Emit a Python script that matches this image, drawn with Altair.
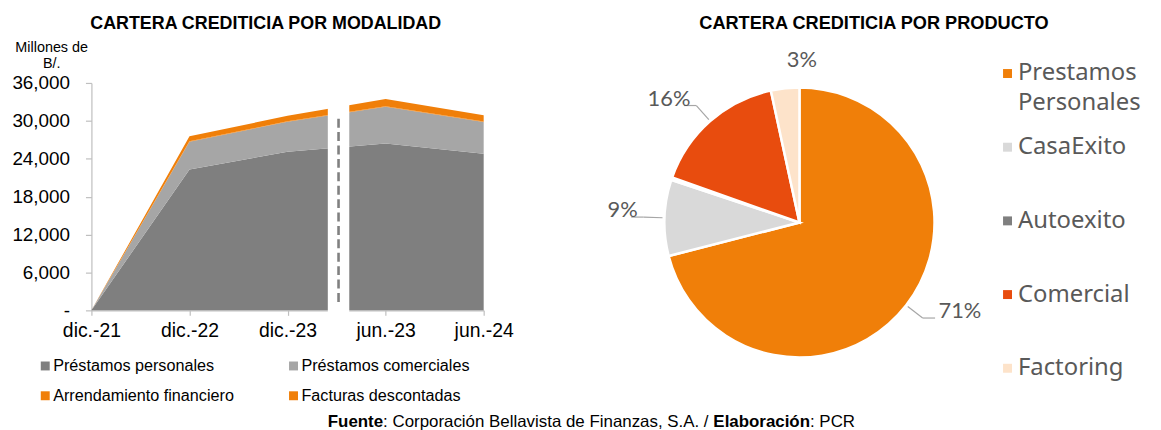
import json
import altair as alt
import pandas as pd

# ---------------- data ----------------
fechas = ["dic.-21", "dic.-22", "dic.-23", "jun.-23", "jun.-24"]
prestamos_personales = [0, 22300, 25100, 26400, 24800]
prestamos_comerciales = [0, 4400, 4750, 5850, 5000]
arrendamiento_financiero = [0, 60, 70, 80, 80]
facturas_descontadas = [0, 790, 880, 1120, 1020]
series = ["Préstamos personales", "Préstamos comerciales",
          "Arrendamiento financiero", "Facturas descontadas"]
ticks_y = [0, 6000, 12000, 18000, 24000, 30000, 36000]

productos = ["Prestamos Personales", "CasaExito", "Autoexito", "Comercial", "Factoring"]
participacion = [71.0, 9.1, 0.3, 16.2, 3.4]

titulo_izq = "CARTERA CREDITICIA POR MODALIDAD"
titulo_der = "CARTERA CREDITICIA POR PRODUCTO"
unidad = "Millones de\nB/."
fuente = [("Fuente", True), (": Corporación Bellavista de Finanzas, S.A. / ", False),
          ("Elaboración", True), (": PCR", False)]

# ---------------- styles ----------------
series_colors = ["#7f7f7f", "#a6a6a6", "#f07f09", "#f07f09"]
pie_colors = ["#f07f09", "#d9d9d9", "#7f7f7f", "#e84c0e", "#fde3ca"]
SANS = "Liberation Sans"
PIEFONT = "Lato"
LEGFONT = "Noto Sans"
GREY_TXT = "#595959"

W, H = 395, 229          # plot area of the left chart
PAD = {"left": 84, "top": 74, "right": 674, "bottom": 119}
CX, CY, R = 713, 140.5, 136   # pie centre, relative to plot origin
CORTE = 2.52                  # axis break between dic.-23 and jun.-23

# ---------------- tables ----------------
vals = [prestamos_personales, prestamos_comerciales, arrendamiento_financiero, facturas_descontadas]
rows = []
for i, f in enumerate(fechas):
    for k, s in enumerate(series):
        rows.append({"pos": i, "fecha": f, "serie": s, "orden": k, "valor": vals[k][i]})
df_area = pd.DataFrame(rows)
df_series = pd.DataFrame({"serie": series, "orden": list(range(len(series)))})
df_pie = pd.DataFrame({"producto": productos, "valor": participacion,
                       "orden": list(range(len(productos)))})
leg_rows = []
for i, p in enumerate(productos):
    lines = p.split(" ") if len(p) > 12 else [p]
    for j, t in enumerate(lines):
        leg_rows.append({"producto": p, "orden": i, "linea": j, "texto": t})
df_pleg = pd.DataFrame(leg_rows)
one = pd.DataFrame({"k": [0]})

NBSP = "\u00a0"
x_axis = alt.Axis(values=list(range(len(fechas))), labelExpr=f"{json.dumps(fechas)}[datum.value]",
                  title=None, grid=False, tickSize=5, labelPadding=6, labelFlush=False,
                  labelOverlap=False)
x_enc = alt.X("pos:Q", scale=alt.Scale(domain=[0, len(fechas) - 1], nice=False, zero=False), axis=x_axis)

area = alt.Chart(df_area).mark_area(interpolate="linear").encode(
    x=x_enc,
    y=alt.Y("valor:Q", stack="zero", scale=alt.Scale(domain=[ticks_y[0], ticks_y[-1]], nice=False),
            axis=alt.Axis(values=ticks_y, title=None, grid=False, tickSize=6, labelPadding=16,
                          labelFontSize=19,
                          labelExpr=f"datum.value == 0 ? '-{NBSP}{NBSP}' : format(datum.value, ',')")),
    color=alt.Color("serie:N", scale=alt.Scale(domain=series, range=series_colors), legend=None),
    order=alt.Order("orden:Q", sort="ascending"),
)

df_corte = pd.DataFrame({"pos": [CORTE]})
gap = alt.Chart(df_corte).mark_rule(color="white", strokeWidth=21.6, strokeCap="butt").encode(
    x=x_enc, y=alt.value(-6), y2=alt.value(234))
dash = alt.Chart(df_corte).mark_rule(color="#808080", strokeWidth=2.6, strokeDash=[9, 4.5],
                                     strokeCap="butt").encode(
    x=x_enc, y=alt.value(36), y2=alt.value(224))

# --- left legend ---
leg_l = alt.Chart(df_series).transform_calculate(
    col="datum.orden % 2", row="floor(datum.orden / 2)",
    lx="-46.5 + datum.col * 250", ly="285 + datum.row * 30", tx="datum.lx + 8")
leg_l_sq = leg_l.mark_square(size=81, opacity=1).encode(
    x=alt.X("lx:Q", scale=None, axis=None), y=alt.Y("ly:Q", scale=None, axis=None),
    color=alt.Color("serie:N", scale=alt.Scale(domain=series, range=series_colors), legend=None))
leg_l_tx = leg_l.mark_text(align="left", baseline="middle", font=SANS, fontSize=16.3, color="black").encode(
    x=alt.X("tx:Q", scale=None, axis=None), y=alt.Y("ly:Q", scale=None, axis=None), text="serie:N")

# --- pie ---
arc = alt.Chart(df_pie).mark_arc(outerRadius=R, stroke="white", strokeWidth=2.5).encode(
    theta=alt.Theta("valor:Q", stack=True),
    order=alt.Order("orden:Q", sort="ascending"),
    color=alt.Color("producto:N", scale=alt.Scale(domain=productos, range=pie_colors), legend=None),
    x=alt.value(CX), y=alt.value(CY))

lab = alt.Chart(df_pie).transform_window(
    cum="sum(valor)", sort=[alt.SortField("orden")], frame=[None, 0]
).transform_joinaggregate(total="sum(valor)").transform_calculate(
    frac="datum.valor / datum.total",
    mid="2 * PI * (datum.cum - datum.valor / 2) / datum.total",
    s="sin(datum.mid)", c="cos(datum.mid)",
    side="datum.s >= 0 ? 1 : -1",
    x0=f"{CX} + 138 * datum.s", y0=f"{CY} - 138 * datum.c",
    xb=f"{CX} + 157 * datum.s", yb=f"{CY} - 157 * datum.c",
    xh="datum.xb + datum.side * 12.5",
    tx="datum.xb + (datum.side > 0 ? 16 : -6)", ty="datum.yb - 7",
    nx=f"{CX} + 165 * datum.s + 20", ny=f"{CY} - 165 * datum.c",
    etiqueta="format(datum.frac, '.0%')")

lead = lab.transform_filter("datum.frac >= 0.05")
lead1 = lead.mark_rule(color="#a6a6a6", strokeWidth=1.2).encode(
    x=alt.X("x0:Q", scale=None, axis=None), y=alt.Y("y0:Q", scale=None, axis=None),
    x2="xb:Q", y2="yb:Q")
lead2 = lead.mark_rule(color="#a6a6a6", strokeWidth=1.2).encode(
    x=alt.X("xb:Q", scale=None, axis=None), y=alt.Y("yb:Q", scale=None, axis=None),
    x2="xh:Q", y2="yb:Q")
txt_r = lead.transform_filter("datum.side > 0").mark_text(
    align="left", baseline="middle", font=PIEFONT, fontSize=22, color=GREY_TXT).encode(
    x=alt.X("tx:Q", scale=None, axis=None), y=alt.Y("ty:Q", scale=None, axis=None), text="etiqueta:N")
txt_l = lead.transform_filter("datum.side < 0").mark_text(
    align="right", baseline="middle", font=PIEFONT, fontSize=22, color=GREY_TXT).encode(
    x=alt.X("tx:Q", scale=None, axis=None), y=alt.Y("ty:Q", scale=None, axis=None), text="etiqueta:N")
txt_n = lab.transform_filter("datum.frac >= 0.01 && datum.frac < 0.05").mark_text(
    align="center", baseline="middle", font=PIEFONT, fontSize=22, color=GREY_TXT).encode(
    x=alt.X("nx:Q", scale=None, axis=None), y=alt.Y("ny:Q", scale=None, axis=None), text="etiqueta:N")

# --- pie legend ---
leg_r_sq = alt.Chart(df_pie).transform_calculate(
    lx="922.5", ly="-9.5 + datum.orden * 74.2").mark_square(size=81, opacity=1).encode(
    x=alt.X("lx:Q", scale=None, axis=None), y=alt.Y("ly:Q", scale=None, axis=None),
    color=alt.Color("producto:N", scale=alt.Scale(domain=productos, range=pie_colors), legend=None))
leg_r_tx = alt.Chart(df_pleg).transform_calculate(
    lx="933", ly="-9.5 + datum.orden * 74.2 + datum.linea * 30").mark_text(
    align="left", baseline="middle", font=LEGFONT, fontSize=24, color=GREY_TXT).encode(
    x=alt.X("lx:Q", scale=None, axis=None), y=alt.Y("ly:Q", scale=None, axis=None), text="texto:N")

# --- titles and notes ---
def label(text, x, y, size, bold=False, align="center", font=SANS, color="black", **kw):
    return alt.Chart(one).mark_text(text=text, align=align, baseline="alphabetic", font=font,
                                    fontSize=size, fontWeight="bold" if bold else "normal",
                                    color=color, **kw).encode(x=alt.value(x), y=alt.value(y))

t_izq = label(titulo_izq, 175.5, -54, 18, bold=True)
t_der = label(titulo_der, 788, -54, 18.3, bold=True)
t_uni = label(unidad, -40, -31.5, 14.5, lineBreak="\n", lineHeight=16)
foot_x = [238, 293.7, 626.3, 723.6]
foot = [label(t, fx, 346, 17, bold=b, align="left") for (t, b), fx in zip(fuente, foot_x)]

chart = alt.layer(
    area, gap, dash, leg_l_sq, leg_l_tx,
    arc, lead1, lead2, txt_r, txt_l, txt_n, leg_r_sq, leg_r_tx,
    t_izq, t_der, t_uni, *foot,
).resolve_scale(color="independent").properties(
    width=W, height=H,
    autosize=alt.AutoSizeParams(type="none"),
    padding=PAD,
).configure_view(stroke=None).configure_axis(
    domainColor="#bfbfbf", tickColor="#bfbfbf", labelFont=SANS, labelFontSize=19.5,
    labelColor="black", domainWidth=1.2, tickWidth=1.2,
)

chart.save("out.html", embed_options={"renderer": "svg", "actions": False})
